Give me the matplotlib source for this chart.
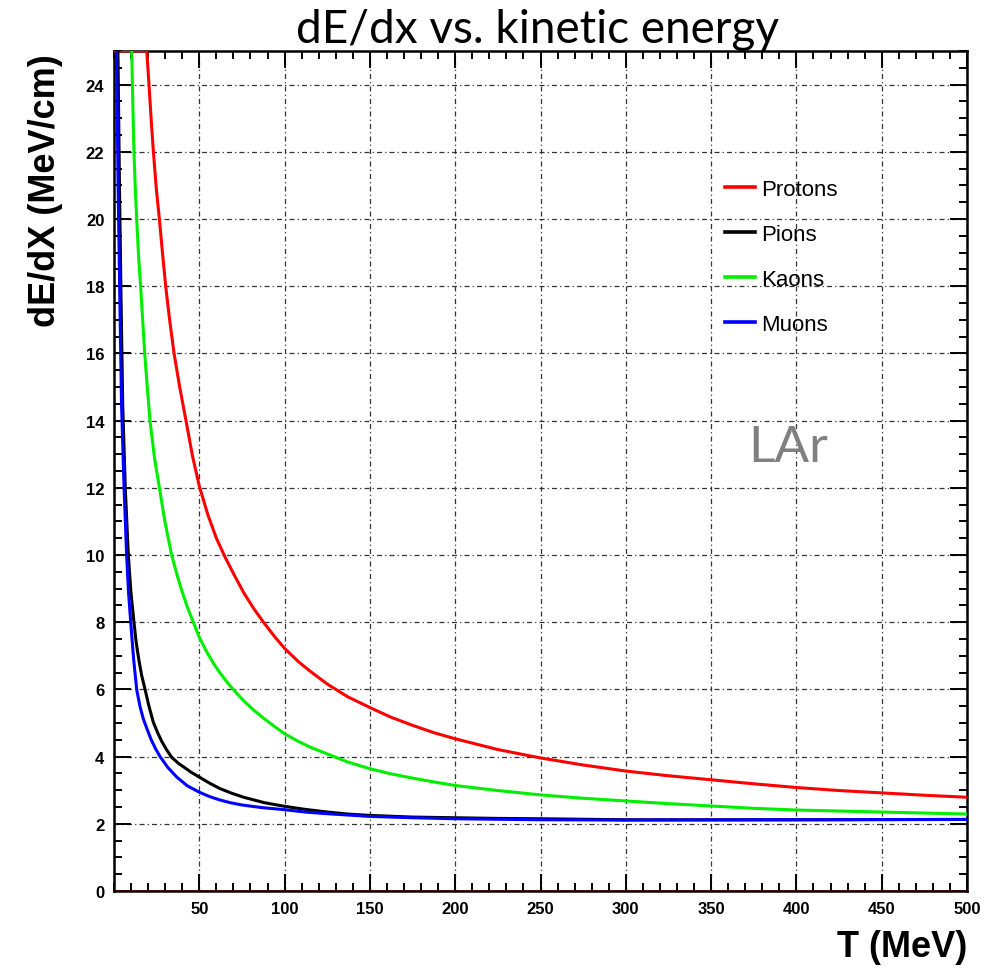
import numpy as np
import matplotlib
matplotlib.use("Agg")
import matplotlib.pyplot as plt
from matplotlib.ticker import MultipleLocator, FixedLocator

# values (T in MeV, dE/dx in MeV/cm)
protons_T = [0, 19.2, 20, 21, 22, 23.1, 24.8, 26.6, 28.4, 30.3, 32.6, 35.2, 38.5, 42.2,
             46, 50, 55, 60, 65, 70, 76, 82, 87.6, 94, 100, 108, 115, 125, 137, 150,
             162, 175, 187, 200, 225, 250, 275, 300, 325, 350, 375, 400, 425, 450,
             475, 500]
protons = [25, 25, 24.4, 23.6, 22.8, 22, 20.9, 20, 19, 18, 17, 16, 15, 14,
           12.95, 12.05, 11.2, 10.5, 9.95, 9.45, 8.88, 8.4, 8.0, 7.58, 7.22, 6.83, 6.54,
           6.16, 5.78, 5.46, 5.18, 4.93, 4.72, 4.53, 4.21, 3.96, 3.75, 3.57, 3.43,
           3.31, 3.19, 3.08, 2.99, 2.92, 2.85, 2.79]

pions_T = [2.3, 3.2, 4.1, 5.1, 6.6, 8.4, 9.9, 11.7, 13, 14.5, 16.2, 18.2, 20.5, 23,
           25.5, 28, 31, 33.8, 38, 42.6, 45, 50, 56, 62, 69, 76, 88, 100, 112, 125,
           137, 150, 175, 200, 225, 250, 300, 350, 400, 450, 500]
pions = [25, 21, 17.7, 14.5, 12, 10, 8.9, 8, 7.4, 6.9, 6.42, 6, 5.5, 5.03,
         4.72, 4.45, 4.19, 3.98, 3.79, 3.63, 3.54, 3.39, 3.21, 3.05, 2.91, 2.79, 2.63,
         2.52, 2.43, 2.35, 2.29, 2.25, 2.2, 2.18, 2.16, 2.15, 2.12, 2.12, 2.12,
         2.125, 2.13]

kaons_T = [10.4, 11, 11.7, 12.5, 13.3, 14.4, 15.6, 16.8, 18, 19.5, 21.1, 23.7, 26.6,
           30, 33.8, 37, 40, 43, 46.5, 50, 54, 58, 62, 67, 71, 76, 82, 88, 94, 100,
           107, 115, 125, 137, 150, 162, 175, 187, 200, 225, 250, 275, 300, 325,
           350, 375, 400, 425, 450, 475, 500]
kaons = [25, 23.5, 22, 20.9, 20, 18.9, 18, 17, 16, 15, 14, 12.9, 12,
         10.95, 10, 9.4, 8.9, 8.45, 8, 7.55, 7.15, 6.8, 6.5, 6.17, 5.94, 5.66, 5.38,
         5.13, 4.9, 4.68, 4.48, 4.28, 4.08, 3.84, 3.64, 3.49, 3.36, 3.25, 3.14, 2.99,
         2.86, 2.76, 2.68, 2.6, 2.53, 2.46, 2.41, 2.38, 2.35, 2.32, 2.29]

muons_T = [1.5, 2.4, 3.4, 4.4, 5.9, 7.4, 8.5, 9.8, 11.5, 13.3, 15.2, 17.2, 19.5, 22,
           24.5, 27, 31.5, 36.8, 43, 50, 56, 62, 68, 75, 87, 100, 112, 125, 150,
           175, 200, 250, 300, 400, 500]
muons = [25, 21, 17.7, 14.5, 12, 10, 8.9, 8, 6.9, 6, 5.5, 5.12, 4.8, 4.48,
         4.22, 4, 3.68, 3.39, 3.13, 2.94, 2.81, 2.71, 2.63, 2.56, 2.48, 2.42, 2.35,
         2.3, 2.22, 2.18, 2.15, 2.12, 2.11, 2.12, 2.13]

labels = ["Protons", "Pions", "Kaons", "Muons"]
colors = ["#ff0000", "#000000", "#00ee00", "#0000ff"]

fig = plt.figure(figsize=(10.02, 9.70), dpi=100)
ax = fig.add_axes([114 / 1002, 1 - 892 / 970, (967 - 114) / 1002, (892 - 52) / 970])

ax.plot(protons_T, protons, color=colors[0], lw=2.2, label=labels[0], zorder=3)
ax.plot(pions_T, pions, color=colors[1], lw=2.2, label=labels[1], zorder=3)
ax.plot(kaons_T, kaons, color=colors[2], lw=2.2, label=labels[2], zorder=3)
ax.plot(muons_T, muons, color=colors[3], lw=2.2, label=labels[3], zorder=4)
ax.axhline(0, color="#ff0000", lw=1.2, zorder=2)

ax.set_xlim(0, 500)
ax.set_ylim(0, 25)

ax.xaxis.set_major_locator(FixedLocator(np.arange(50, 501, 50)))
ax.xaxis.set_minor_locator(MultipleLocator(10))
ax.yaxis.set_major_locator(MultipleLocator(2))
ax.yaxis.set_minor_locator(MultipleLocator(0.5))

ax.tick_params(which="both", direction="in", top=True, right=True, width=1.4)
ax.tick_params(which="major", length=12, pad=7, labelsize=12)
ax.tick_params(which="minor", length=6)
for lab in ax.get_xticklabels() + ax.get_yticklabels():
    lab.set_fontfamily("Liberation Sans")
    lab.set_fontweight("bold")

for s in ax.spines.values():
    s.set_linewidth(1.8)

ax.grid(True, which="major", color="#333333", lw=0.9, linestyle=(0, (4, 2.5, 1, 2.5)))
ax.set_axisbelow(True)

leg = ax.legend(loc="upper left", bbox_to_anchor=(0.716, 0.848), frameon=False,
                prop={"family": "Liberation Sans", "size": 16},
                handlelength=1.35, handletextpad=0.3, labelspacing=1.08,
                borderpad=0, borderaxespad=0)
for h in leg.get_lines():
    h.set_linewidth(2.6)

ax.text(395, 13.2, "LAr", color="#808080", fontsize=37, family="Lato",
        ha="center", va="center")

fig.text(0.536, 1 - 30 / 970, "dE/dx vs. kinetic energy", family="Lato",
         fontsize=33, ha="center", va="center")
fig.text(0.045, 1 - 54 / 970, "dE/dX (MeV/cm)", family="Liberation Sans",
         fontweight="bold", fontsize=26, rotation=90, ha="center", va="top")
fig.text(0.965, 1 - 948 / 970, "T (MeV)", family="Liberation Sans",
         fontweight="bold", fontsize=26, ha="right", va="center")

fig.savefig("out.png", dpi=100)
